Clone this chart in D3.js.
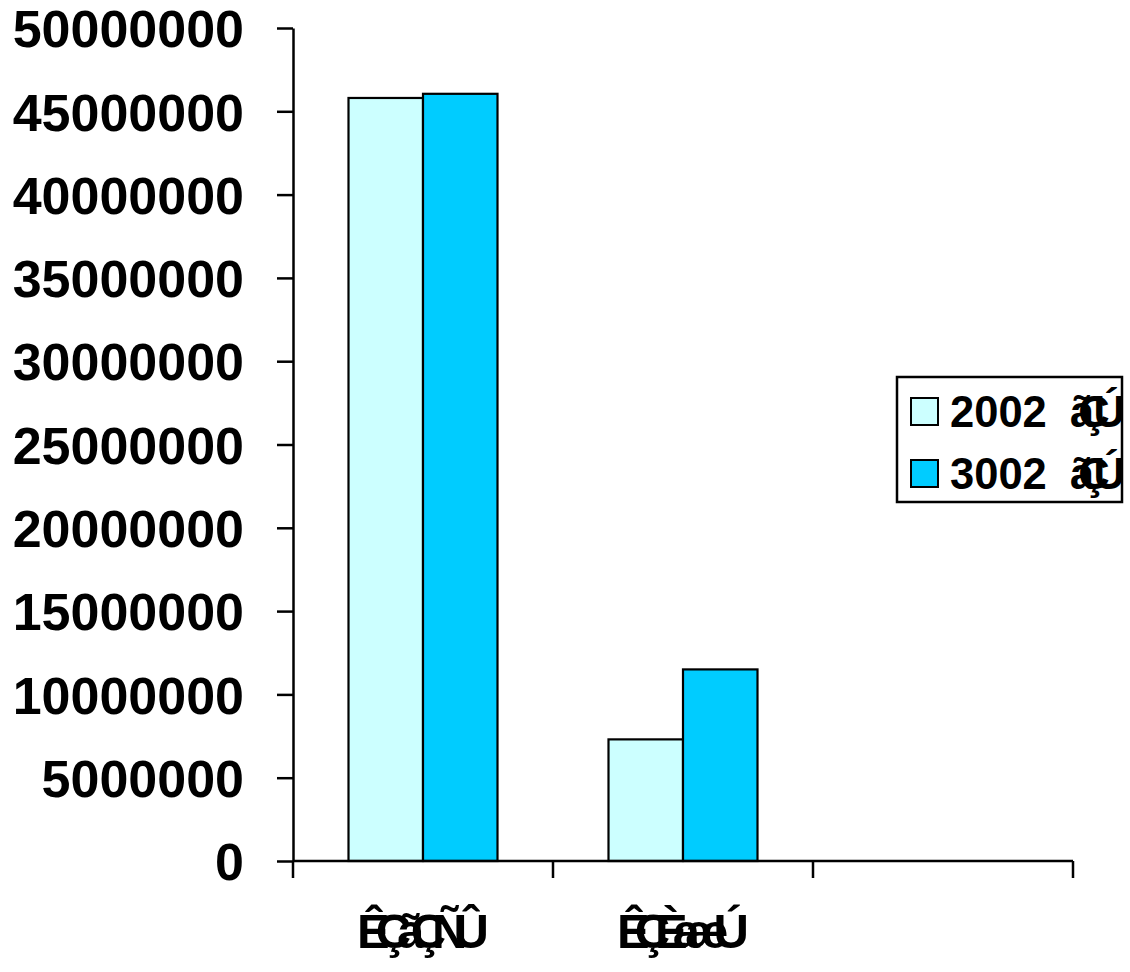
<!DOCTYPE html>
<html><head><meta charset="utf-8">
<script src="https://cdn.jsdelivr.net/npm/d3@7"></script>
<style>
html,body{margin:0;padding:0;background:#fff;}
svg text{font-family:Arial,"Liberation Sans",sans-serif;font-weight:bold;fill:#000;}
</style></head>
<body>
<svg id="c" width="1130" height="972"></svg>
<script>
const categories = ["ÊÇãÇÑÛ", "ÊÇÈaæÚ", ""];
const seriesNames = ["2002", "3002"];
const seriesSuffix = "ãÇÚ";
const values2002 = [45800000, 7300000, null];
const values2003 = [46050000, 11500000, null];
const yTicks = [0,5000000,10000000,15000000,20000000,25000000,30000000,35000000,40000000,45000000,50000000];
const colors = ["#CCFFFF", "#00CCFF"];

const svg = d3.select("#c");
const L = 293, R = 1073, T = 28, B = 861;
const x = d3.scaleBand().domain(categories.map((c,i)=>i)).range([L,R]).paddingInner(0).paddingOuter(0);
const xs = d3.scaleBand().domain([0,1]).range([0,x.bandwidth()]).paddingInner(0).paddingOuter(0.745);
const y = d3.scaleLinear().domain([0,50000000]).range([B,T]);

const seriesVals = [values2002, values2003];

// bars
seriesVals.forEach((vals,s)=>{
  svg.append("g").selectAll("rect").data(vals.map((v,i)=>({v,i})).filter(d=>d.v!=null))
    .join("rect")
    .attr("x", d=>x(d.i)+xs(s))
    .attr("y", d=>y(d.v))
    .attr("width", xs.bandwidth())
    .attr("height", d=>B-y(d.v))
    .attr("fill", colors[s])
    .attr("stroke","#000").attr("stroke-width",2.2);
});

// y axis
const ya = svg.append("g").attr("transform",`translate(${L},0)`)
  .call(d3.axisLeft(y).tickValues(yTicks).tickFormat(d3.format("d")).tickSize(16).tickPadding(33).tickSizeOuter(0));
ya.select(".domain").attr("stroke","#000").attr("stroke-width",2.5);
ya.selectAll(".tick line").attr("stroke","#000").attr("stroke-width",2.5);
ya.selectAll(".tick text").attr("font-size",52).attr("font-family","Arial, 'Liberation Sans', sans-serif").attr("font-weight","bold").attr("fill","#000").attr("dy","0.36em");

// x axis line
svg.append("line").attr("x1",L).attr("x2",R).attr("y1",B).attr("y2",B).attr("stroke","#000").attr("stroke-width",2.5);
const bounds = categories.map((c,i)=>x(i)).concat([R]);
svg.append("g").selectAll("line").data(bounds).join("line")
  .attr("x1",d=>d).attr("x2",d=>d).attr("y1",B).attr("y2",B+17)
  .attr("stroke","#000").attr("stroke-width",2.5);

// category labels (overlapping glyphs)
svg.append("g").selectAll("text").data(categories.filter(c=>c)).join("text")
  .attr("x",(d,i)=>x(i)+x.bandwidth()/2)
  .attr("y",948)
  .attr("text-anchor","middle")
  .attr("font-size",49)
  .attr("textLength",132)
  .attr("lengthAdjust","spacing")
  .text(d=>d);

// legend
const lg = svg.append("g");
const LX=897, LY=377, LW=225, LH=125;
svg.append("defs").append("clipPath").attr("id","lc").append("rect").attr("x",LX).attr("y",LY).attr("width",LW).attr("height",LH);
lg.append("rect").attr("x",LX).attr("y",LY).attr("width",LW).attr("height",LH).attr("fill","#fff").attr("stroke","#000").attr("stroke-width",2.5);
const items = lg.append("g").attr("clip-path","url(#lc)");
seriesNames.forEach((n,s)=>{
  const cy = 412 + s*62;
  items.append("rect").attr("x",911).attr("y",cy-14).attr("width",27).attr("height",27)
    .attr("fill",colors[s]).attr("stroke","#000").attr("stroke-width",2);
  const t = items.append("text").attr("x",950).attr("y",cy+15).attr("font-size",43.5);
  t.append("tspan").text(n);
  t.append("tspan").attr("x",1070).attr("letter-spacing",-16).text(seriesSuffix);
});
</script>
</body></html>
